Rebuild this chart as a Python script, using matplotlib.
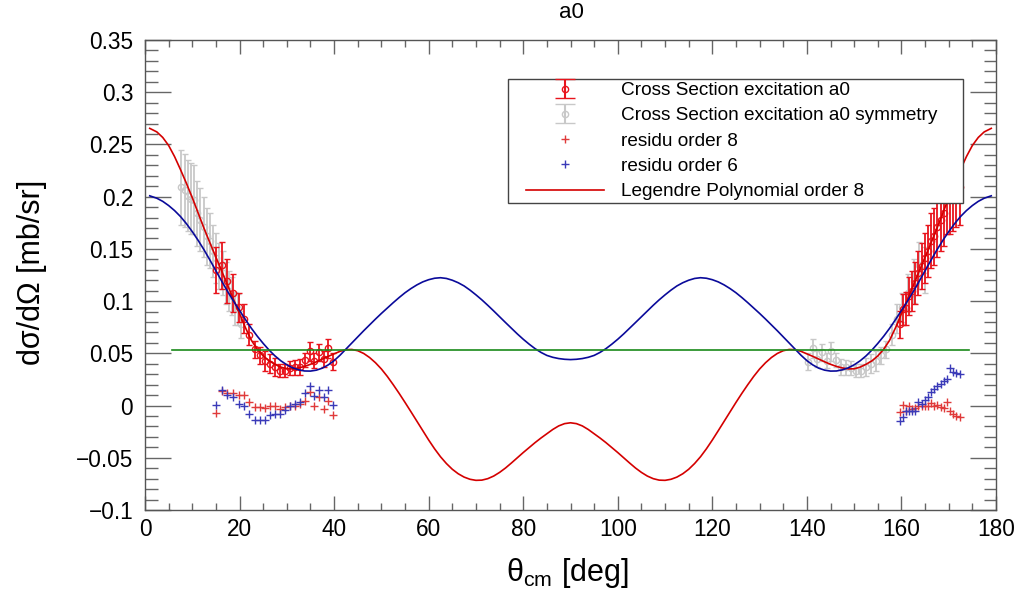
import matplotlib
matplotlib.use('Agg')
import matplotlib.pyplot as plt
from matplotlib.ticker import MultipleLocator, FuncFormatter
from matplotlib.lines import Line2D
from matplotlib.container import ErrorbarContainer
from matplotlib.legend_handler import HandlerLine2D, HandlerErrorbar

plt.rcParams['font.family'] = ['Liberation Sans', 'DejaVu Sans']
plt.rcParams['mathtext.fontset'] = 'custom'
plt.rcParams['mathtext.rm'] = 'Liberation Sans'
plt.rcParams['mathtext.it'] = 'Liberation Sans:italic'

# ---------------- data ----------------
# fitted curves (read on 0..90 deg; the even-order Legendre fits are symmetric about 90 deg)
theta_half = [1.0, 2.5, 3.75, 5.0, 6.25, 7.5, 8.75, 10.0, 11.25, 12.5, 13.75, 15.0,
              16.25, 17.5, 18.75, 20.0, 21.25, 22.5, 23.75, 25.0, 26.25, 27.5, 28.75,
              30.0, 31.25, 32.5, 33.75, 35.0, 36.25, 37.5, 38.75, 40.0, 41.25, 42.5,
              43.75, 45.0, 46.25, 47.5, 48.75, 50.0, 51.25, 52.5, 53.75, 55.0, 56.25,
              57.5, 58.75, 60.0, 61.25, 62.5, 63.75, 65.0, 66.25, 67.5, 68.75, 70.0,
              71.25, 72.5, 73.75, 75.0, 76.25, 77.5, 78.75, 80.0, 81.25, 82.5, 83.75,
              85.0, 86.25, 87.5, 88.75, 90.0]
fit8_half = [0.2654, 0.2620, 0.2567, 0.2490, 0.2384, 0.2260, 0.2129, 0.1990, 0.1843,
             0.1695, 0.1556, 0.1420, 0.1285, 0.1150, 0.1014, 0.0880, 0.0745, 0.0625,
             0.0539, 0.0475, 0.0428, 0.0395, 0.0368, 0.0352, 0.0351, 0.0360, 0.0375,
             0.0395, 0.0419, 0.0445, 0.0471, 0.0495, 0.0519, 0.0535, 0.0537, 0.0525,
             0.0499, 0.0460, 0.0410, 0.0350, 0.0279, 0.0200, 0.0117, 0.0030, -0.0059,
             -0.0150, -0.0241, -0.0330, -0.0414, -0.0490, -0.0555, -0.0610, -0.0653,
             -0.0685, -0.0706, -0.0716, -0.0714, -0.0700, -0.0675, -0.0640, -0.0598,
             -0.0550, -0.0500, -0.0450, -0.0402, -0.0355, -0.0311, -0.0270, -0.0229,
             -0.0195, -0.0173, -0.0165]
fit6_half = [0.2008, 0.1985, 0.1955, 0.1915, 0.1867, 0.1810, 0.1742, 0.1665, 0.1581,
             0.1490, 0.1392, 0.1290, 0.1189, 0.1090, 0.0998, 0.0910, 0.0823, 0.0740,
             0.0664, 0.0595, 0.0531, 0.0475, 0.0428, 0.0390, 0.0361, 0.0342, 0.0331,
             0.0330, 0.0339, 0.0358, 0.0389, 0.0430, 0.0482, 0.0540, 0.0599, 0.0658,
             0.0716, 0.0772, 0.0828, 0.0882, 0.0934, 0.0985, 0.1034, 0.1080, 0.1120,
             0.1155, 0.1184, 0.1205, 0.1219, 0.1224, 0.1217, 0.1200, 0.1176, 0.1145,
             0.1105, 0.1060, 0.1012, 0.0960, 0.0906, 0.0850, 0.0795, 0.0740, 0.0686,
             0.0635, 0.0588, 0.0545, 0.0509, 0.0480, 0.0462, 0.0450, 0.0443, 0.0440]

mean_theta = [5.65, 174.35]
mean_level = [0.0534, 0.0534]

# forward-angle measured points
theta_fwd = [15.0, 16.2, 17.4, 18.6, 19.8, 21.0, 22.1, 23.3, 24.4, 25.4, 26.5, 27.5,
             28.6, 29.6, 30.7, 31.8, 32.8, 33.9, 34.8, 35.8, 36.9, 37.8, 38.7, 39.7]
xs_fwd = [0.130, 0.1345, 0.119, 0.108, 0.094, 0.083, 0.068, 0.054, 0.048, 0.043,
          0.040, 0.037, 0.0334, 0.0334, 0.036, 0.0366, 0.037, 0.0436, 0.052, 0.043,
          0.051, 0.0445, 0.055, 0.042]
err_fwd = [0.022, 0.0225, 0.021, 0.018, 0.014, 0.014, 0.010, 0.008, 0.008, 0.0095,
           0.009, 0.0087, 0.006, 0.006, 0.007, 0.007, 0.008, 0.007, 0.009, 0.007,
           0.008, 0.008, 0.009, 0.008]
res8_fwd = [-0.0073, 0.0137, 0.0118, 0.0124, 0.0099, 0.0105, 0.0032, -0.0016, -0.0016,
            -0.0022, 0.0, 0.0, -0.0032, -0.0016, 0.0, 0.0, 0.0016, 0.0048, 0.0127,
            0.0, 0.008, -0.0032, 0.0048, -0.0086]
res6_fwd = [0.0006, 0.0153, 0.0105, 0.0080, 0.0016, -0.0003, -0.008, -0.0143, -0.0143,
            -0.0134, -0.0095, -0.008, -0.008, -0.0041, 0.0, 0.0016, 0.0038, 0.0118,
            0.0185, 0.0089, 0.015, 0.008, 0.0153, 0.001]

# backward-angle measured points
theta_bwd = [159.6, 160.3, 160.9, 161.6, 162.3, 162.9, 163.6, 164.3, 164.9, 165.6,
             166.3, 166.9, 167.6, 168.3, 168.9, 169.6, 170.3, 170.9, 171.6, 172.3]
xs_bwd = [0.078, 0.092, 0.093, 0.105, 0.110, 0.117, 0.127, 0.134, 0.141, 0.148,
          0.158, 0.162, 0.171, 0.178, 0.184, 0.197, 0.198, 0.201, 0.206, 0.209]
err_bwd = [0.013, 0.015, 0.016, 0.018, 0.019, 0.020, 0.021, 0.022, 0.024, 0.025,
           0.026, 0.027, 0.029, 0.030, 0.031, 0.033, 0.034, 0.034, 0.035, 0.036]
res8_bwd = [-0.006, 0.001, -0.005, 0.0, -0.003, -0.002, 0.0, 0.0, 0.0, 0.0,
            0.002, 0.0, 0.001, -0.001, -0.002, 0.003, -0.005, -0.008, -0.010, -0.011]
res6_bwd = [-0.015, -0.0105, -0.0048, -0.0048, -0.0048, -0.0048, 0.0032, 0.0016,
            0.0054, 0.0086, 0.0127, 0.016, 0.019, 0.0207, 0.0232, 0.0255, 0.036,
            0.0318, 0.0308, 0.030]

labels = ["Cross Section excitation a0", "Cross Section excitation a0 symmetry",
          "residu order 8", "residu order 6", "Legendre Polynomial order 8"]

# full fitted curves: mirror of the 0..90 half about 90 deg
theta_fit = theta_half + [180.0 - t for t in reversed(theta_half[:-1])]
fit_order8 = fit8_half + list(reversed(fit8_half[:-1]))
fit_order6 = fit6_half + list(reversed(fit6_half[:-1]))

# symmetric copies of the measurement (theta -> 180 - theta)
theta_sym = [180.0 - t for t in theta_bwd] + [180.0 - t for t in theta_fwd]
xs_sym = xs_bwd + xs_fwd
err_sym = err_bwd + err_fwd

RED = '#e8141c'
RED_FIT = '#d40000'
BLUE_FIT = '#0a0a9a'
GREEN = '#1a8a1a'
GRAY = '#c8c8c8'
RES_RED = '#e03a3a'
RES_BLUE = '#3a3ab8'

fig = plt.figure(figsize=(10.19, 5.96), dpi=100)
ax = fig.add_axes([145 / 1019, 1 - 510 / 596, (996 - 145) / 1019, (510 - 40) / 596])

ax.errorbar(theta_sym, xs_sym, yerr=err_sym, fmt='o', ms=4.5, mfc='none',
            mec=GRAY, ecolor=GRAY, color=GRAY, elinewidth=1.3, capsize=2,
            capthick=1.2, mew=1.0, zorder=2)
ax.errorbar(theta_fwd + theta_bwd, xs_fwd + xs_bwd, yerr=err_fwd + err_bwd,
            fmt='o', ms=4.5, mfc='none', mec=RED, ecolor=RED, color=RED,
            elinewidth=1.3, capsize=2, capthick=1.2, mew=1.0, zorder=3)

h_r8, = ax.plot(theta_fwd + theta_bwd, res8_fwd + res8_bwd, ls='none', marker='+',
                ms=6, mew=1.0, color=RES_RED, zorder=4)
h_r6, = ax.plot(theta_fwd + theta_bwd, res6_fwd + res6_bwd, ls='none', marker='+',
                ms=6, mew=1.0, color=RES_BLUE, zorder=4)

h_f8, = ax.plot(theta_fit, fit_order8, color=RED_FIT, lw=1.2, zorder=5)
ax.plot(theta_fit, fit_order6, color=BLUE_FIT, lw=1.2, zorder=5)
ax.plot(mean_theta, mean_level, color=GREEN, lw=1.2, zorder=5)

# legend proxies (no visible data) with wide caps, as in the legend of the reference
nan = float('nan')
h_dat = ax.errorbar([nan], [nan], yerr=[0.01], fmt='o', ms=4.5, mfc='none', mec=RED,
                    ecolor=RED, color=RED, elinewidth=1.5, capsize=7, capthick=1.5,
                    mew=1.0)
h_sym = ax.errorbar([nan], [nan], yerr=[0.01], fmt='o', ms=4.5, mfc='none', mec=GRAY,
                    ecolor=GRAY, color=GRAY, elinewidth=1.5, capsize=7, capthick=1.5,
                    mew=1.0)

ax.set_xlim(0, 180)
ax.set_ylim(-0.1, 0.35)
ax.xaxis.set_major_locator(MultipleLocator(20))
ax.xaxis.set_minor_locator(MultipleLocator(5))
ax.yaxis.set_major_locator(MultipleLocator(0.05))
ax.yaxis.set_minor_locator(MultipleLocator(0.01))


def yfmt(v, pos):
    s = ('%.2f' % v).rstrip('0').rstrip('.')
    if s in ('-0', '0.', ''):
        s = '0'
    return s.replace('-', '\u2212')


ax.yaxis.set_major_formatter(FuncFormatter(yfmt))

for s in ax.spines.values():
    s.set_color('#555555')
    s.set_linewidth(1.0)
ax.tick_params(axis='both', which='both', direction='in', top=True, right=True,
               color='#666666', width=1.0, labelsize=16.3)
ax.tick_params(axis='y', which='major', length=18.5, pad=8.5)
ax.tick_params(axis='y', which='minor', length=9)
ax.tick_params(axis='x', which='major', length=10, pad=6)
ax.tick_params(axis='x', which='minor', length=5)

fig.text(32 / 1019, 1 - 272 / 596, 'd\u03c3/d\u03a9 [mb/sr]', rotation=90,
         ha='center', va='center', fontsize=22)
fig.text(567 / 1019, 1 - 573 / 596, '\u03b8$_{\\rm cm}$ [deg]', ha='center',
         va='center', fontsize=22)
fig.text(571 / 1019, 1 - 12 / 596, 'a0', ha='center', va='center', fontsize=16)

fs = 13.7
leg = ax.legend([h_dat, h_sym, h_r8, h_r6, h_f8], labels,
                loc='upper left', bbox_to_anchor=(363 / 851, 1 - 39 / 470, 455 / 851, 0.0),
                mode='expand', borderaxespad=0, fontsize=fs, frameon=True,
                fancybox=False, framealpha=1, edgecolor='#444444', borderpad=0.15,
                handlelength=4.9, handletextpad=0.9, labelspacing=0.42,
                handler_map={Line2D: HandlerLine2D(xpad=0.8, numpoints=1),
                             ErrorbarContainer: HandlerErrorbar(xpad=0.8, numpoints=1)})
leg.get_frame().set_linewidth(1.0)

fig.savefig('out.png', dpi=100)
